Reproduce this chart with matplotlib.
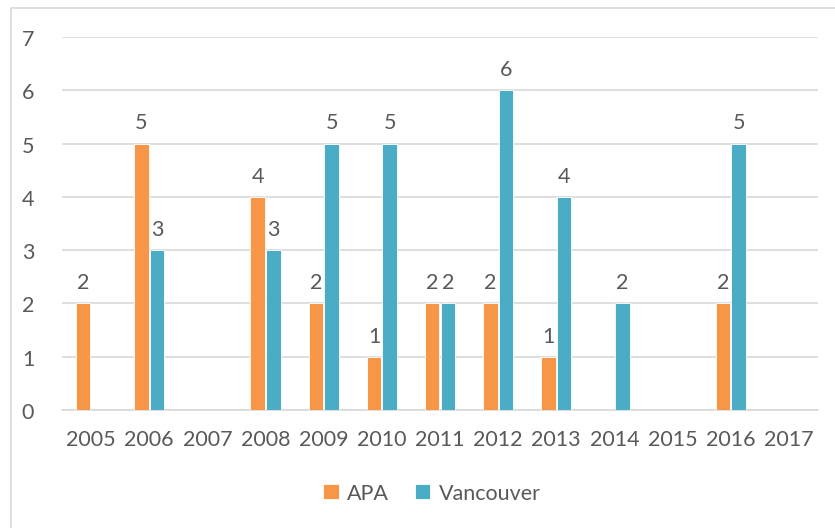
import matplotlib
matplotlib.use("Agg")
import matplotlib.pyplot as plt
import numpy as np
from matplotlib.patches import Rectangle

years = ["2005", "2006", "2007", "2008", "2009", "2010", "2011", "2012", "2013", "2014", "2015", "2016", "2017"]
apa = [2, 5, 0, 4, 2, 1, 2, 2, 1, 0, 0, 2, 0]
vancouver = [0, 3, 0, 3, 5, 5, 2, 6, 4, 2, 0, 5, 0]

plt.rcParams['font.family'] = ['Lato', 'DejaVu Sans']
txt = '#595959'
c_apa = '#F79646'
c_van = '#4BACC6'
fs = 15.5

fig = plt.figure(figsize=8.35 * np.array([1, 529 / 835]), dpi=100)
fig.patches.append(Rectangle((11 / 835, -0.01), 1.1, 1 - 9 / 529 + 0.01, transform=fig.transFigure,
                             fill=False, edgecolor='#D9D9D9', linewidth=1.2))
ax = fig.add_axes([62 / 835, 1 - 411 / 529, (818 - 62) / 835, (411 - 38) / 529])

x = np.arange(len(years))
w = 0.25
b1 = ax.bar(x - w / 2 - 0.01, apa, w, color=c_apa, edgecolor='white', linewidth=0.6, label='APA', zorder=3)
b2 = ax.bar(x + w / 2 + 0.01, vancouver, w, color=c_van, edgecolor='white', linewidth=0.6, label='Vancouver', zorder=3)

for bars, vals in ((b1, apa), (b2, vancouver)):
    for r, v in zip(bars, vals):
        if v > 0:
            ax.annotate(str(v), (r.get_x() + r.get_width() / 2, v), xytext=(0, 8), textcoords='offset points',
                        ha='center', va='bottom', fontsize=fs, color=txt)

ax.set_ylim(0, 7)
ax.set_xlim(-0.5, len(years) - 0.5)
ax.set_yticks(range(8))
ax.set_xticks(x)
ax.set_xticklabels(years)
ax.tick_params(axis='both', length=0, labelsize=fs, colors=txt)
ax.tick_params(axis='y', pad=20)
ax.tick_params(axis='x', pad=14)
ax.grid(axis='y', color='#D9D9D9', linewidth=1.2, zorder=0)
for s in ['top', 'right', 'left']:
    ax.spines[s].set_visible(False)
ax.spines['bottom'].set_color('#D9D9D9')
ax.spines['bottom'].set_linewidth(1.2)

fig.legend(handles=[b1, b2], loc='center', bbox_to_anchor=(432 / 835, 1 - 494 / 529), ncol=2, frameon=False,
           fontsize=fs, labelcolor=txt, handlelength=0.7, handleheight=0.7, handletextpad=0.4, columnspacing=1.2)

fig.savefig('out.png', dpi=100)
